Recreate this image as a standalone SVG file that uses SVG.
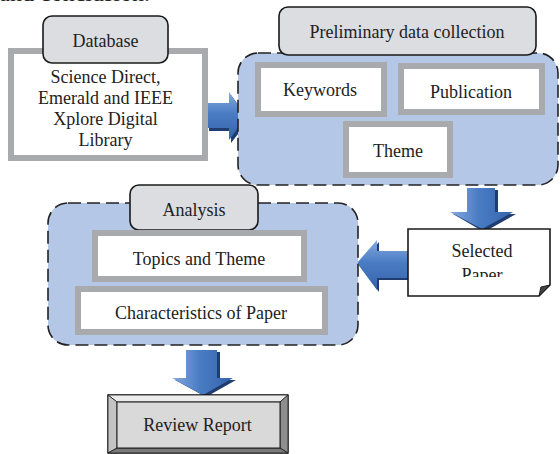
<svg xmlns="http://www.w3.org/2000/svg" width="560" height="454" viewBox="0 0 560 454">
  <defs>
    <style>
      text { font-family: "Liberation Serif", "Times New Roman", serif; font-size: 18px; fill: #222; text-anchor: middle; }
      .container { fill: #b4c7e7; stroke: #222; stroke-width: 1.6; stroke-dasharray: 13 6; }
      .label { fill: #dcdde0; stroke: #1a1a1a; stroke-width: 1.6; }
      .item { fill: #ffffff; stroke: #a9aaad; stroke-width: 6; }
      .shadow { fill: #1f3d70; }
      .arrow-h { fill: url(#gradV); }
      .arrow-v { fill: url(#gradH); }
    </style>
    <linearGradient id="gradV" x1="0" y1="0" x2="0" y2="1">
      <stop offset="0" stop-color="#86aae0"/>
      <stop offset="0.45" stop-color="#4a7cc4"/>
      <stop offset="1" stop-color="#3563ab"/>
    </linearGradient>
    <linearGradient id="gradH" x1="0" y1="0" x2="1" y2="0">
      <stop offset="0" stop-color="#86aae0"/>
      <stop offset="0.45" stop-color="#4a7cc4"/>
      <stop offset="1" stop-color="#3563ab"/>
    </linearGradient>
    <clipPath id="paperClip">
      <rect x="408" y="229" width="143" height="48"/>
    </clipPath>
  </defs>

  <!-- running text cut at the top edge -->
  <text x="150" y="0.5" style="text-anchor:end;font-size:24px">and conclusion.</text>

  <!-- connectors (block arrows) -->
  <g id="connectors">
    <g id="arrow-db-to-prelim">
      <path class="shadow" d="M209,106 H231 V95 L249,120 L231,143 V131 H209 Z"/>
      <path class="arrow-h" d="M207,103 H229 V92 L246,117 L229,140 V128 H207 Z"/>
    </g>
    <g id="arrow-prelim-to-selected">
      <path class="shadow" d="M470,190 H498 V214 H516 L484,232 L453,214 H470 Z"/>
      <path class="arrow-v" d="M467,188 H495 V212 H513 L482,229 L450,212 H467 Z"/>
    </g>
    <g id="arrow-selected-to-analysis">
      <path class="shadow" d="M413,253 H379 V242 L359,265 L379,292 V280 H413 Z"/>
      <path class="arrow-h" d="M412,251 H377 V240 L357,263 L377,290 V278 H412 Z"/>
    </g>
    <g id="arrow-analysis-to-report">
      <path class="shadow" d="M189,352 H220 V380 H236 L206,397 L175,380 H189 Z"/>
      <path class="arrow-v" d="M186,350 H217 V378 H233 L203,395 L172,378 H186 Z"/>
    </g>
  </g>

  <!-- Database -->
  <g id="database">
    <rect class="item" x="11" y="51" width="194" height="107"/>
    <rect class="label" x="43" y="16" width="125" height="47" rx="9"/>
    <text x="105.5" y="47">Database</text>
    <text x="105.5" y="83">Science Direct,</text>
    <text x="105.5" y="104">Emerald and IEEE</text>
    <text x="105.5" y="125">Xplore Digital</text>
    <text x="105.5" y="146">Library</text>
  </g>

  <!-- Preliminary data collection -->
  <g id="preliminary">
    <rect class="container" x="238" y="53" width="320" height="132" rx="20"/>
    <rect class="label" x="279" y="7" width="257" height="48" rx="9"/>
    <text x="407" y="38">Preliminary data collection</text>
    <g id="keywords">
      <rect class="item" x="258" y="65" width="126" height="49"/>
      <text x="320" y="96">Keywords</text>
    </g>
    <g id="publication">
      <rect class="item" x="401" y="66" width="141" height="46"/>
      <text x="471" y="98">Publication</text>
    </g>
    <g id="theme">
      <rect class="item" x="346" y="124" width="104" height="51"/>
      <text x="398" y="157">Theme</text>
    </g>
  </g>

  <!-- Selected Paper -->
  <g id="selected-paper">
    <path d="M408,229 H550 V285 L539,296 H408 Z" fill="#ffffff" stroke="#1a1a1a" stroke-width="1.6"/>
    <path d="M550,285 L539,296 L541,287 Z" fill="#444" stroke="#1a1a1a" stroke-width="1"/>
    <text x="482" y="257">Selected</text>
    <text x="482" y="281" clip-path="url(#paperClip)">Paper</text>
  </g>

  <!-- Analysis -->
  <g id="analysis">
    <rect class="container" x="48" y="203" width="310" height="142" rx="20"/>
    <rect class="label" x="130" y="185" width="128" height="45" rx="9"/>
    <text x="194" y="216">Analysis</text>
    <g id="topics-theme">
      <rect class="item" x="95" y="233" width="209" height="46"/>
      <text x="199" y="265">Topics and Theme</text>
    </g>
    <g id="characteristics">
      <rect class="item" x="78" y="289" width="247" height="43"/>
      <text x="201" y="319">Characteristics of Paper</text>
    </g>
  </g>

  <!-- Review Report (bevelled frame) -->
  <g id="review-report">
    <rect x="108" y="395" width="180" height="58" fill="#d9d9d9" stroke="#1a1a1a" stroke-width="1.4"/>
    <path d="M108,395 H288 L280,402 H117 Z" fill="#ececec" stroke="#1a1a1a" stroke-width="0.8"/>
    <path d="M108,395 L117,402 V448 L108,453 Z" fill="#c4c4c4" stroke="#1a1a1a" stroke-width="0.8"/>
    <path d="M288,395 L280,402 V448 L288,453 Z" fill="#8e8e8e" stroke="#1a1a1a" stroke-width="0.8"/>
    <path d="M108,453 L117,448 H280 L288,453 Z" fill="#7a7a7a" stroke="#1a1a1a" stroke-width="0.8"/>
    <rect x="117" y="402" width="163" height="46" fill="#d9d9d9" stroke="#1a1a1a" stroke-width="1"/>
    <text x="197.5" y="431">Review Report</text>
  </g>
</svg>
